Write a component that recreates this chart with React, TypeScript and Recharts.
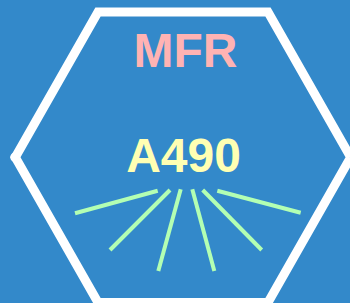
import { LineChart, Line, XAxis, YAxis, ReferenceDot } from 'recharts'

// ── Hexagon outline (starts/ends mid top edge so every corner is joined) ─────
const hexX = [183, 268, 350.7, 268, 98, 15.3, 98, 190]
const hexY = [12, 12, 157.2, 302.5, 302.5, 157.2, 12, 12]

// ── Rays under the label: start / end points ────────────────────────────────
const rayX1 = [75, 110, 158.3, 214.3, 261.7, 300.7]
const rayY1 = [213.3, 250, 271, 271, 250, 212.7]
const rayX2 = [157.7, 170, 180.7, 192.3, 202.7, 217.3]
const rayY2 = [190.7, 190, 189.3, 189.3, 190, 190.7]

// ── Texts ────────────────────────────────────────────────────────────────────
const labels = ['MFR', 'A490']
const labelX = [185.5, 183.5]
const labelY = [49.5, 154.5]
const labelColors = ['#FFB3B3', '#FFFFB3']

const hexData = hexX.map((x, i) => ({ x, y: hexY[i] }))
const rays = rayX1.map((x, i) => [
  { x, y: rayY1[i] },
  { x: rayX2[i], y: rayY2[i] },
])

export default function App() {
  return (
    <div style={{ position: 'fixed', left: 0, top: 0, width: 350, height: 303, background: '#3389CA' }}>
      <LineChart width={350} height={303} margin={{ top: 0, right: 0, left: 0, bottom: 0 }}>
        <XAxis type="number" dataKey="x" domain={[0, 350]} hide allowDataOverflow />
        <YAxis type="number" dataKey="y" domain={[0, 303]} reversed hide allowDataOverflow />
        <Line
          data={hexData}
          dataKey="y"
          stroke="#FFFFFF"
          strokeWidth={9}
          strokeLinejoin="miter"
          dot={false}
          isAnimationActive={false}
        />
        {rays.map((r, i) => (
          <Line
            key={i}
            data={r}
            dataKey="y"
            stroke="#B3FFB3"
            strokeWidth={4}
            dot={false}
            isAnimationActive={false}
          />
        ))}
        {labels.map((t, i) => (
          <ReferenceDot
            key={t}
            x={labelX[i]}
            y={labelY[i]}
            r={0}
            stroke="none"
            fill="none"
            label={{
              value: t,
              position: 'center',
              fill: labelColors[i],
              fontSize: 48,
              fontWeight: 'bold',
              fontFamily: 'Liberation Sans, Arial, sans-serif',
            }}
          />
        ))}
      </LineChart>
    </div>
  )
}
